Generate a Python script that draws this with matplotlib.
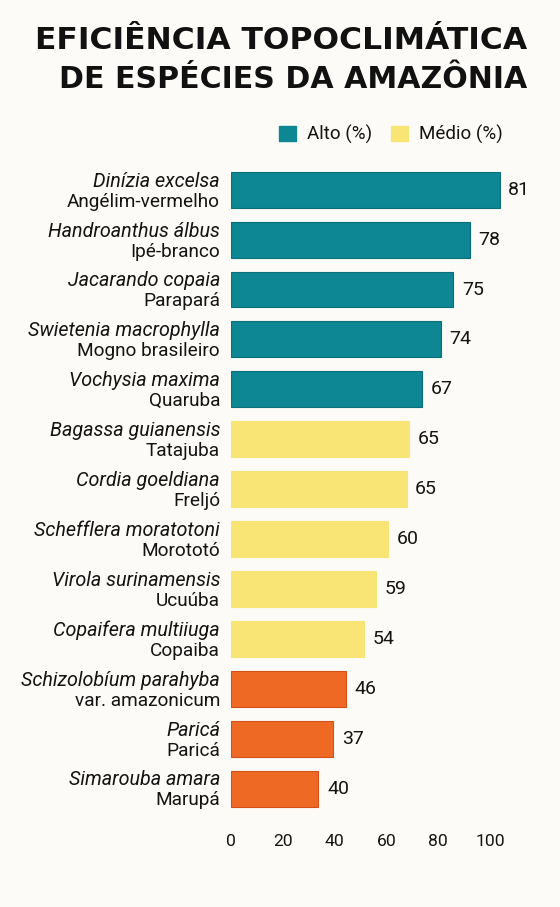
import matplotlib
matplotlib.use("Agg")
import matplotlib.pyplot as plt
from matplotlib.patches import Patch

# Species (scientific name, common name)
especies = ["Dinízia excelsa", "Handroanthus álbus", "Jacarando copaia",
            "Swietenia macrophylla", "Vochysia maxima", "Bagassa guianensis",
            "Cordia goeldiana", "Schefflera moratotoni", "Virola surinamensis",
            "Copaifera multiiuga", "Schizolobíum parahyba", "Paricá",
            "Simarouba amara"]
nomes = ["Angélim-vermelho", "Ipé-branco", "Parapará", "Mogno brasileiro",
         "Quaruba", "Tatajuba", "Freljó", "Morototó", "Ucuúba", "Copaiba",
         "var. amazonicum", "Paricá", "Marupá"]
grupo = ["alto"] * 5 + ["medio"] * 5 + ["baixo"] * 3

# printed value labels
valores = [81, 78, 75, 74, 67, 65, 65, 60, 59, 54, 46, 37, 40]
# bar lengths as drawn against the 0-100 axis (they don't match the labels)
comprimento = [103.7, 92.3, 85.9, 80.9, 73.7, 68.8, 67.8, 60.7, 56.0,
               51.3, 44.4, 39.5, 33.8]

xticks = [0, 20, 40, 60, 80, 100]

cores = {"alto": "#0d8793", "medio": "#f9e476", "baixo": "#ee6a24"}
bordas = {"alto": "#0a6f79", "medio": "#f9e476", "baixo": "#d4501b"}

fundo = "#fcfbf7"
texto = "#141414"

fig = plt.figure(figsize=(5.6, 9.07), dpi=100, facecolor=fundo)
W, H = 560, 907
ax = fig.add_axes([230.7 / W, 1 - 813.5 / H, 311.2 / W, 648.75 / H])
ax.set_facecolor(fundo)

pos = list(range(len(especies)))
ax.barh(pos, comprimento, height=0.72,
        color=[cores[g] for g in grupo],
        edgecolor=[bordas[g] for g in grupo], linewidth=0.8)

ax.set_xlim(0, 120)
ax.set_ylim(len(especies) - 0.5, -0.5)

for s in ax.spines.values():
    s.set_visible(False)
ax.set_yticks([])
ax.set_xticks(xticks)
ax.set_xticklabels([str(t) for t in xticks], fontsize=12.6, family="Roboto",
                   color=texto)
ax.tick_params(axis="x", length=0, pad=15)

for i in pos:
    ax.annotate(especies[i], xy=(0, i), xytext=(-7.7, 2.2),
                textcoords="offset points", ha="right", va="baseline",
                fontsize=14.2, family="Roboto", style="italic", color=texto)
    ax.annotate(nomes[i], xy=(0, i), xytext=(-7.7, -12.2),
                textcoords="offset points", ha="right", va="baseline",
                fontsize=13.7, family="Roboto", color=texto)
    ax.annotate(str(valores[i]), xy=(comprimento[i], i), xytext=(6.2, 0),
                textcoords="offset points", ha="left", va="center",
                fontsize=14, family="Roboto", color=texto)

# title
fig.text(281 / W, 1 - 49.3 / H, "EFICIÊNCIA TOPOCLIMÁTICA", ha="center",
         va="baseline", fontsize=22.6, fontweight="bold",
         family="DejaVu Sans", color="#111111")
fig.text(292.7 / W, 1 - 88.3 / H, "DE ESPÉCIES DA AMAZÔNIA", ha="center",
         va="baseline", fontsize=21.6, fontweight="bold",
         family="DejaVu Sans", color="#111111")

# legend
handles = [Patch(facecolor=cores["alto"], edgecolor=cores["alto"], label="Alto (%)"),
           Patch(facecolor=cores["medio"], edgecolor=cores["medio"], label="Médio (%)")]
fig.legend(handles=handles, loc="center right", ncol=2, frameon=False,
           bbox_to_anchor=(503 / W, 1 - 134.5 / H), borderaxespad=0,
           borderpad=0, handlelength=0.9, handleheight=0.9,
           handletextpad=0.6, columnspacing=1.0,
           prop={"family": "Roboto", "size": 13.5}, labelcolor=texto)

fig.savefig("out.png", dpi=100, facecolor=fundo)
